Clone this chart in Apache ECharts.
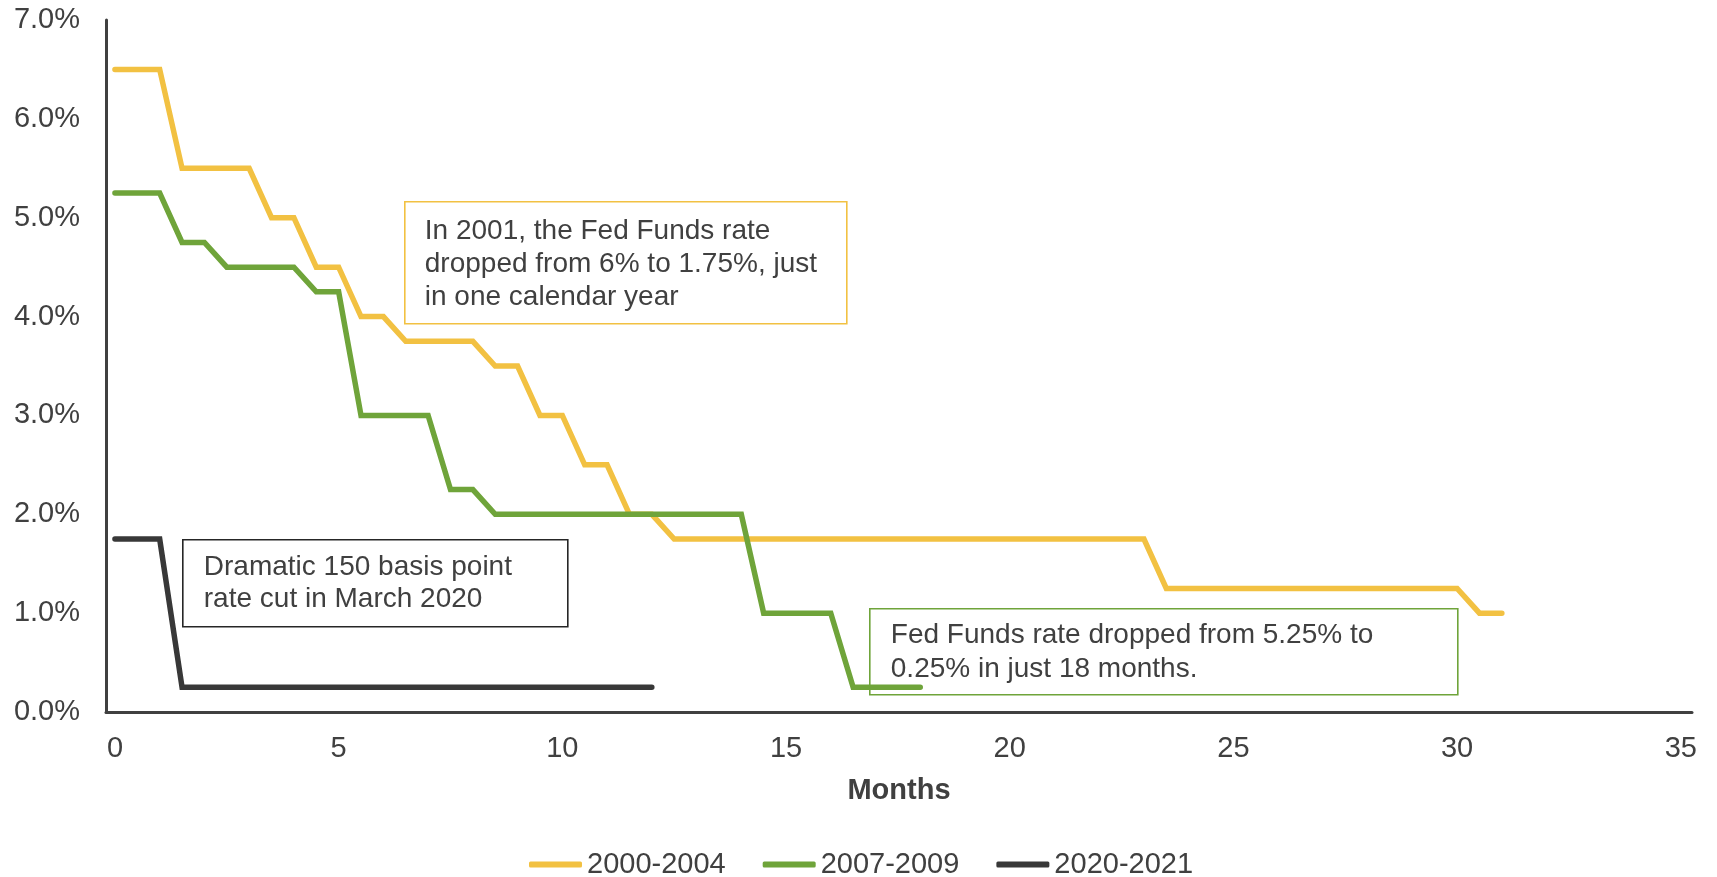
<!DOCTYPE html>
<html>
<head>
<meta charset="utf-8">
<title>Fed Funds rate cuts by easing cycle</title>
<script src="https://cdn.jsdelivr.net/npm/echarts@6/dist/echarts.min.js"></script>
<style>
  html, body { margin: 0; padding: 0; background: #ffffff; }
  #chart { width: 1717px; height: 877px; }
</style>
</head>
<body>
<div id="chart"></div>
<script>
// Months since the first cut, and the target rate (%) at each step
const months2000 = [0, 1, 1.5, 3, 3.5, 4, 4.5, 5, 5.5, 6, 6.5, 8, 8.5, 9, 9.5, 10, 10.5, 11, 11.5, 12, 12.5, 23, 23.5, 30, 30.5, 31];
const rates2000  = [6.5, 6.5, 5.5, 5.5, 5.0, 5.0, 4.5, 4.5, 4.0, 4.0, 3.75, 3.75, 3.5, 3.5, 3.0, 3.0, 2.5, 2.5, 2.0, 2.0, 1.75, 1.75, 1.25, 1.25, 1.0, 1.0];

const months2007 = [0, 1, 1.5, 2, 2.5, 4, 4.5, 5, 5.5, 7, 7.5, 8, 8.5, 14, 14.5, 16, 16.5, 18];
const rates2007  = [5.25, 5.25, 4.75, 4.75, 4.5, 4.5, 4.25, 4.25, 3.0, 3.0, 2.25, 2.25, 2.0, 2.0, 1.0, 1.0, 0.25, 0.25];

const months2020 = [0, 1, 1.5, 12];
const rates2020  = [1.75, 1.75, 0.25, 0.25];

const seriesNames = ['2000-2004', '2007-2009', '2020-2021'];
const xTickValues = [0, 5, 10, 15, 20, 25, 30, 35];
const yTickValues = [0, 1, 2, 3, 4, 5, 6, 7];

const notes = [
  ['In 2001, the Fed Funds rate', 'dropped from 6% to 1.75%, just', 'in one calendar year'],
  ['Dramatic 150 basis point', 'rate cut in March 2020'],
  ['Fed Funds rate dropped from 5.25% to', '0.25% in just 18 months.']
];

const COLORS = ['#F2C142', '#6FA43A', '#383838'];
const TEXT = '#404040';
const FONT = '"Liberation Sans", Arial, sans-serif';

const pairs = (xs, ys) => xs.map((x, i) => [x, ys[i]]);

function stepSeries(name, xs, ys, color) {
  return {
    name: name,
    type: 'line',
    data: pairs(xs, ys),
    showSymbol: false,
    symbol: 'none',
    color: color,
    lineStyle: { width: 5.5, color: color, cap: 'round', join: 'miter' },
    emphasis: { disabled: true },
    animation: false
  };
}

function noteBox(left, top, width, height, border, lines, textLeft, lineHeight, firstLineTop) {
  return {
    type: 'group',
    left: left,
    top: top,
    children: [
      {
        type: 'rect',
        shape: { x: 0, y: 0, width: width, height: height },
        style: { fill: '#ffffff', stroke: border, lineWidth: 1.6 }
      },
      {
        type: 'text',
        x: textLeft,
        y: firstLineTop,
        style: {
          text: lines.join('\n'),
          fill: TEXT,
          font: '28px ' + FONT,
          lineHeight: lineHeight,
          textAlign: 'left',
          textVerticalAlign: 'top'
        }
      }
    ]
  };
}

const chart = echarts.init(document.getElementById('chart'), null, { renderer: 'canvas' });

chart.setOption({
  backgroundColor: '#ffffff',
  animation: false,
  textStyle: { fontFamily: FONT, color: TEXT },
  grid: { left: 106, right: 25, top: 20, bottom: 165, containLabel: false },
  xAxis: {
    type: 'value',
    min: -0.2,
    max: 35.25,
    name: 'Months',
    nameLocation: 'middle',
    nameGap: 64,
    nameTextStyle: { fontSize: 29, fontWeight: 'bold', color: TEXT, fontFamily: FONT },
    axisLine: { show: true, lineStyle: { color: '#404040', width: 3 } },
    axisTick: { show: false },
    splitLine: { show: false },
    axisLabel: {
      customValues: xTickValues,
      fontSize: 29,
      color: TEXT,
      margin: 22,
      fontFamily: FONT
    }
  },
  yAxis: {
    type: 'value',
    min: 0,
    max: 7,
    interval: 1,
    axisLine: { show: true, onZero: false, lineStyle: { color: '#404040', width: 3 } },
    axisTick: { show: false },
    splitLine: { show: false },
    axisLabel: {
      customValues: yTickValues,
      fontSize: 29,
      color: TEXT,
      margin: 26,
      fontFamily: FONT,
      formatter: v => v.toFixed(1) + '%'
    }
  },
  legend: {
    data: seriesNames,
    left: 524,
    top: 845,
    itemWidth: 53,
    itemHeight: 6,
    itemGap: 37,
    icon: 'roundRect',
    textStyle: { fontSize: 29, color: TEXT, fontFamily: FONT, padding: [0, 0, 0, 0] },
    selectedMode: false
  },
  series: [
    stepSeries(seriesNames[0], months2000, rates2000, COLORS[0]),
    stepSeries(seriesNames[1], months2007, rates2007, COLORS[1]),
    stepSeries(seriesNames[2], months2020, rates2020, COLORS[2])
  ],
  graphic: [
    noteBox(404, 201, 442, 122, COLORS[0], notes[0], 20, 33, 13),
    noteBox(182, 539, 385, 87, '#262626', notes[1], 21, 32, 11),
    noteBox(869, 608, 588, 86, COLORS[1], notes[2], 21, 34, 9)
  ]
});
</script>
</body>
</html>
